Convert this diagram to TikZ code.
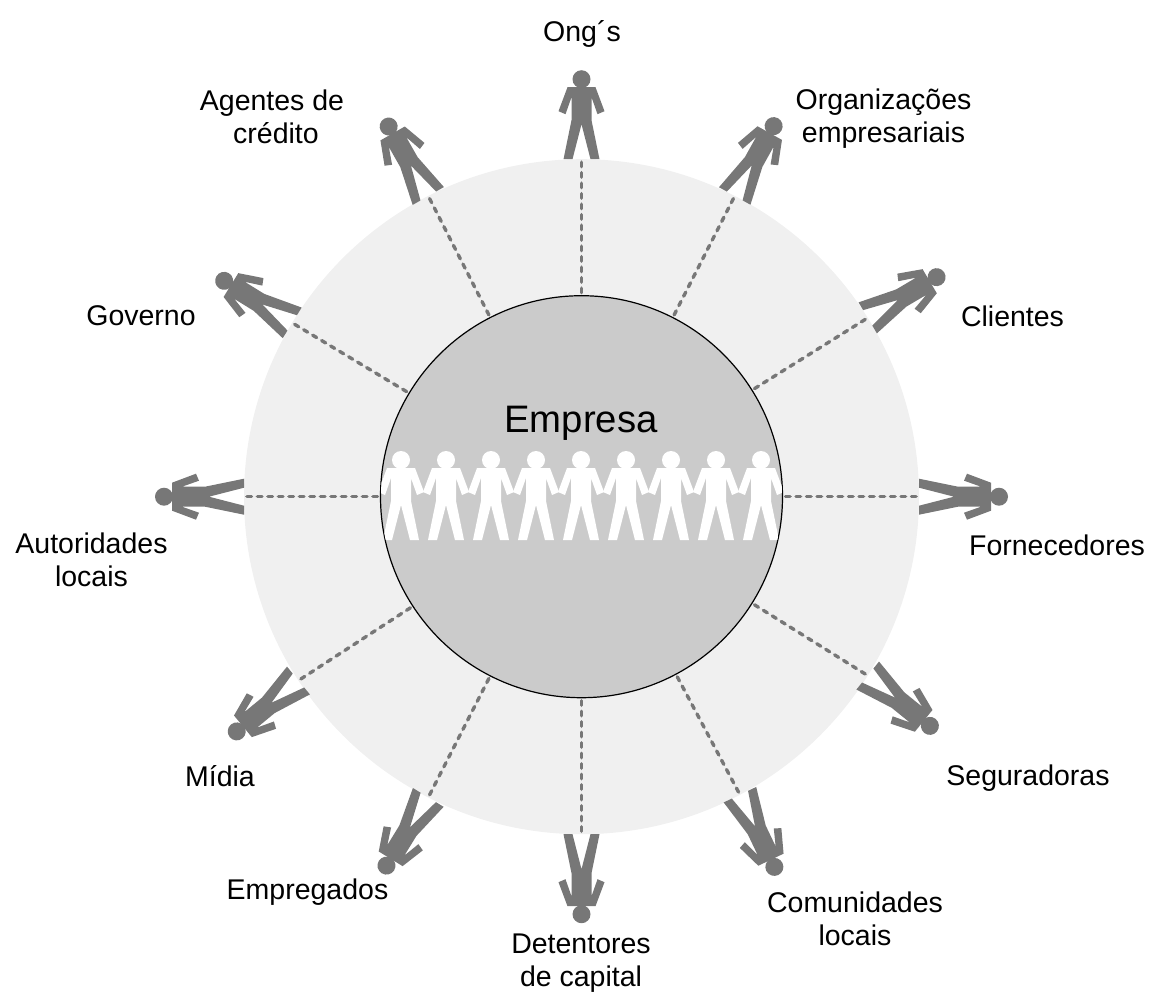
\documentclass[tikz,border=0pt]{standalone}
\usepackage{fontspec}
\setmainfont{Liberation Sans}
\usetikzlibrary{positioning}
\definecolor{ringgray}{HTML}{F0F0F0}
\definecolor{coregray}{HTML}{CBCBCB}
\definecolor{figgray}{HTML}{777777}
\tikzset{
    lbl/.style={align=center, font=\fontsize{28.5}{33}\selectfont, inner sep=0pt},
    link/.style={draw=figgray, line width=3.4pt, line cap=round, dash pattern=on 4.6pt off 5.9pt, shorten <=3pt},
    figure/.pic={
        \fill [pic actions] (0,-80) circle (9pt);
        \fill [pic actions] (-14,-72) -- (14,-72) -- (23,-48) -- (16,-45) -- (10,-62) -- (10,-39)
            -- (18,0) -- (9,0) -- (0,-35) -- (-9,0) -- (-18,0) -- (-10,-39) -- (-10,-62)
            -- (-16,-45) -- (-23,-48) -- cycle;
    }
}

\begin{document}
\begin{tikzpicture}[x=1pt, y=-1pt]
    \useasboundingbox (0,0) rectangle (1149,991);
    \node (ring) [circle, fill=ringgray, minimum size=675pt, inner sep=0pt, outer sep=0pt] at (581.5,496.7) {};
    \node (core) [circle, draw=black, line width=1.2pt, fill=coregray, minimum size=402pt, inner sep=0pt, outer sep=0pt] at (581.5,496.7) {};
    \node (firm) [lbl, font=\fontsize{38.3}{44}\selectfont] at (581,423) {Empresa};

    % people inside the company
    \begin{scope}
        \clip (581.5,496.7) circle (200.5pt);
        \foreach \px in {401,446,...,761}
            \pic [fill=white] at (\px,540) {figure};
    \end{scope}

    % dashed links and the outer people: position on ring / axis of figure
    \foreach \ang/\tilt in {90/90,63/60.9,32.5/30.6,0/0,-32.6/-39,-62.8/-64.5,-90/-90,-117.9/-121.5,-147.7/-140.5,180/180,149/148.3,117/119.7} {
        \path [link] (core.\ang) -- (ring.\ang);
        \pic [fill=figgray, rotate=\tilt-90] at (ring.\ang) {figure};
    }

    \node (ong) [lbl] at (582,34) {Ong´s};
    \node (org) [lbl] at (883.5,119) {Organizações\\empresariais};
    \node (cli) [lbl] at (1012.5,316) {Clientes};
    \node (forn) [lbl] at (1057,545) {Fornecedores};
    \node (seg) [lbl] at (1028,778) {Seguradoras};
    \node (com) [lbl] at (855,919) {Comunidades\\locais};
    \node (det) [lbl] at (581,963) {Detentores\\de capital};
    \node (emp) [lbl] at (307.5,892) {Empregados};
    \node (mid) [lbl] at (220,776) {Mídia};
    \node (aut) [lbl] at (91.5,560) {Autoridades\\locais};
    \node (gov) [lbl] at (141,316) {Governo};
    \node (age) [lbl] at (276,117) {Agentes de\hspace*{8pt}\\crédito};
\end{tikzpicture}
\end{document}
